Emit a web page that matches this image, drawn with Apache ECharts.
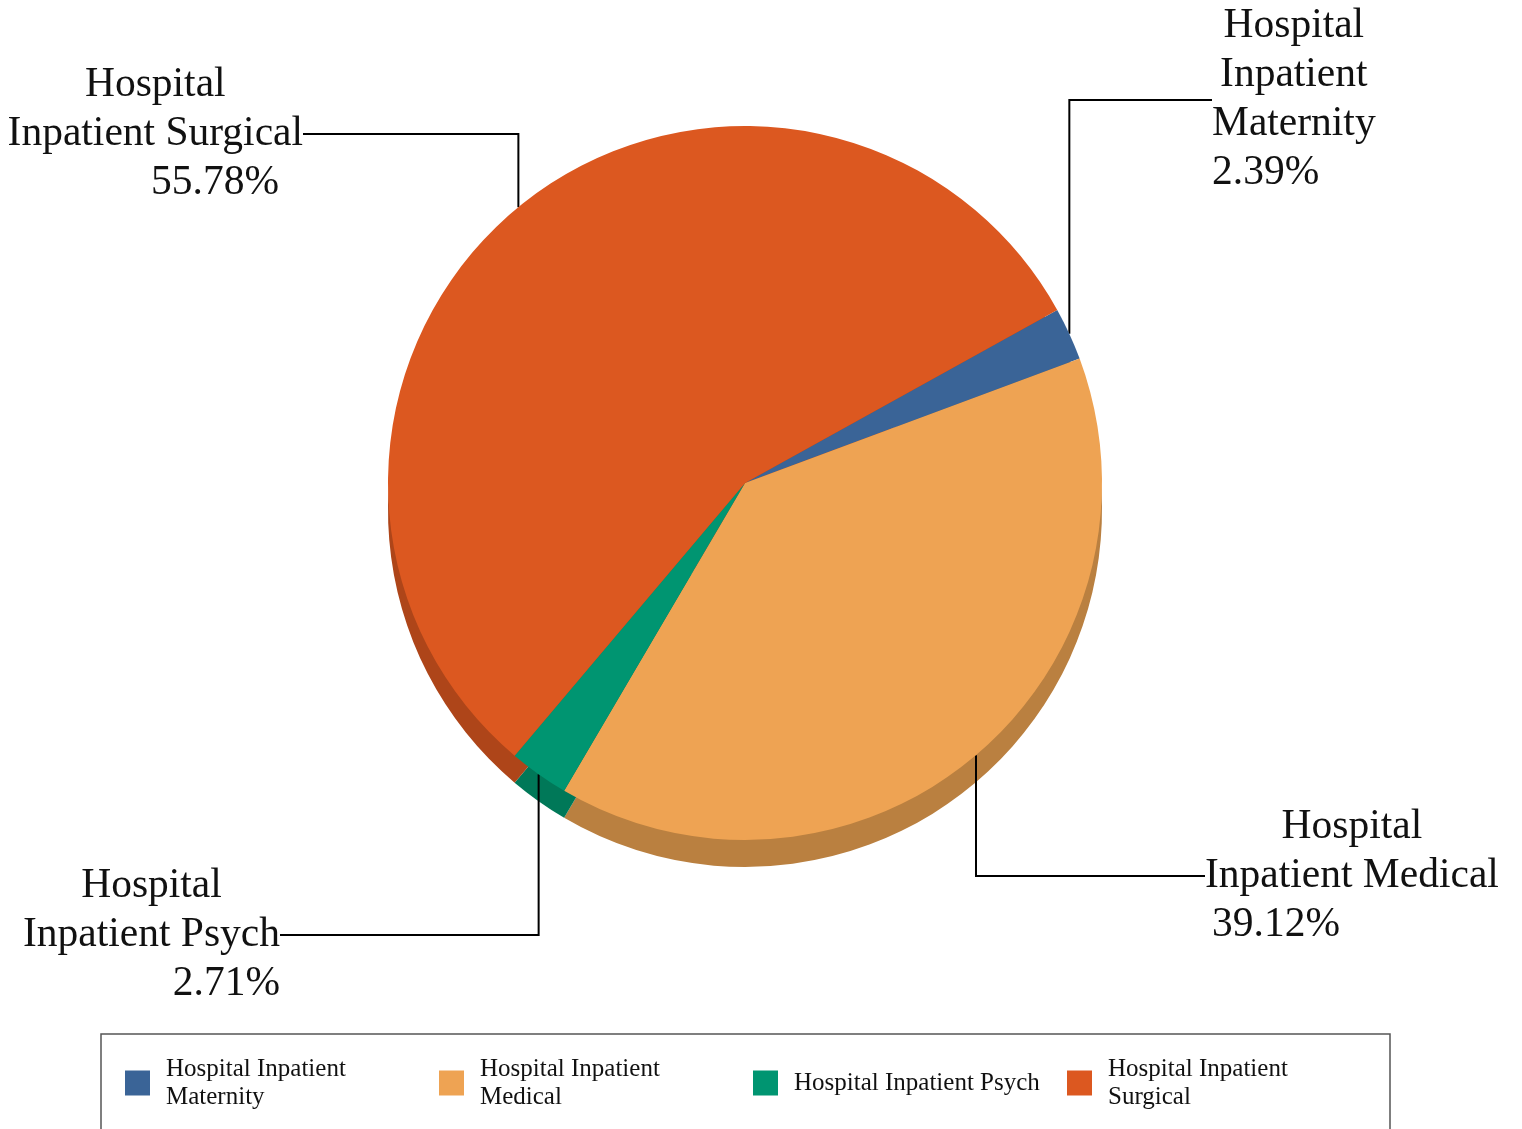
<!DOCTYPE html>
<html>
<head>
<meta charset="utf-8">
<script src="https://cdn.jsdelivr.net/npm/echarts@6/dist/echarts.min.js"></script>
<style>
  html, body { margin: 0; background: #fff; }
  #chart { width: 1522px; height: 1129px; }
</style>
</head>
<body>
<div id="chart"></div>
<script>
const categories = [
  'Hospital Inpatient Maternity',
  'Hospital Inpatient Medical',
  'Hospital Inpatient Psych',
  'Hospital Inpatient Surgical'
]
const shares = [2.39, 39.12, 2.71, 55.78]
const labelText = [
  ['Hospital', 'Inpatient', 'Maternity'],
  ['Hospital', 'Inpatient Medical'],
  ['Hospital', 'Inpatient Psych'],
  ['Hospital', 'Inpatient Surgical']
]

const topColors = ['#3a6497', '#eea353', '#009571', '#dc5820']
const sideColors = ['#2d4f78', '#ba8040', '#007858', '#ae4519']

const CENTER = [745, 483]
const RADIUS = 357
const DEPTH = 27
const START = 29
const FONT = 'Liberation Serif'

// callout boxes: x/y = where the leader line meets the text block
const callouts = [
  { x: 1212, y: 100, side: 'left', pad: 0 },
  { x: 1205, y: 876, side: 'left', pad: 7, lineX: 976 },
  { x: 280, y: 935, side: 'right', pad: 0 },
  { x: 303, y: 134, side: 'right', pad: 24 }
]

function midPoint(i) {
  let before = 0
  for (let k = 0; k < i; k++) before += shares[k]
  const total = shares.reduce((a, b) => a + b, 0)
  const ang = (START - 360 * (before + shares[i] / 2) / total) * Math.PI / 180
  return [CENTER[0] + RADIUS * Math.cos(ang), CENTER[1] - RADIUS * Math.sin(ang)]
}

function labelRich(i) {
  const c = callouts[i]
  const base = { fontFamily: FONT, fontSize: 41.5, lineHeight: 49, color: '#111' }
  return {
    c: { ...base, align: 'center' },
    p: {
      ...base,
      align: c.side,
      padding: c.side === 'left' ? [0, 0, 0, c.pad] : [0, c.pad, 0, 0]
    }
  }
}

const chart = echarts.init(document.getElementById('chart'))

chart.setOption({
  backgroundColor: '#fff',
  animation: false,
  legend: {
    data: categories,
    left: 101,
    top: 1034,
    orient: 'horizontal',
    itemWidth: 25,
    itemHeight: 25,
    itemGap: 18,
    icon: 'rect',
    padding: [21, 27, 40, 24],
    borderColor: '#555',
    borderWidth: 1.5,
    selectedMode: false,
    textStyle: {
      fontFamily: FONT,
      fontSize: 25,
      lineHeight: 28,
      color: '#111',
      width: 255,
      overflow: 'break',
      padding: [0, 0, 0, 11]
    }
  },
  series: [
    {
      type: 'pie',
      z: 3,
      center: CENTER,
      radius: RADIUS,
      startAngle: START,
      clockwise: true,
      avoidLabelOverlap: false,
      silent: true,
      emphasis: { disabled: true },
      itemStyle: { borderWidth: 0 },
      data: categories.map((name, i) => ({
        name,
        value: shares[i],
        itemStyle: { color: topColors[i] },
        label: { rich: labelRich(i) }
      })),
      label: {
        show: true,
        position: 'outside',
        fontFamily: FONT,
        fontSize: 41.5,
        lineHeight: 49,
        color: '#111',
        formatter: p => {
          const lines = labelText[p.dataIndex].map(t => '{c|' + t + '}')
          lines.push('{p|' + p.value.toFixed(2) + '%}')
          return lines.join('\n')
        }
      },
      labelLine: { show: true, lineStyle: { color: '#000', width: 2 } },
      labelLayout: params => {
        const i = params.dataIndex
        const c = callouts[i]
        let p0 = params.labelLinePoints ? params.labelLinePoints[0] : midPoint(i)
        if (c.lineX != null) {
          const dx = c.lineX - CENTER[0]
          const dy = Math.sqrt(RADIUS * RADIUS - dx * dx)
          p0 = [c.lineX, CENTER[1] + (c.y > CENTER[1] ? dy : -dy)]
        }
        return {
          x: c.x,
          y: c.y,
          align: c.side,
          verticalAlign: 'middle',
          labelLinePoints: [[p0[0], p0[1]], [p0[0], c.y], [c.x, c.y]]
        }
      }
    },
    {
      // darker copy shifted down gives the pie its thickness
      type: 'pie',
      z: 2,
      center: [CENTER[0], CENTER[1] + DEPTH],
      radius: RADIUS,
      startAngle: START,
      clockwise: true,
      silent: true,
      emphasis: { disabled: true },
      itemStyle: { borderWidth: 0 },
      label: { show: false },
      labelLine: { show: false },
      data: categories.map((name, i) => ({
        name,
        value: shares[i],
        itemStyle: { color: sideColors[i] }
      }))
    }
  ]
})
</script>
</body>
</html>
